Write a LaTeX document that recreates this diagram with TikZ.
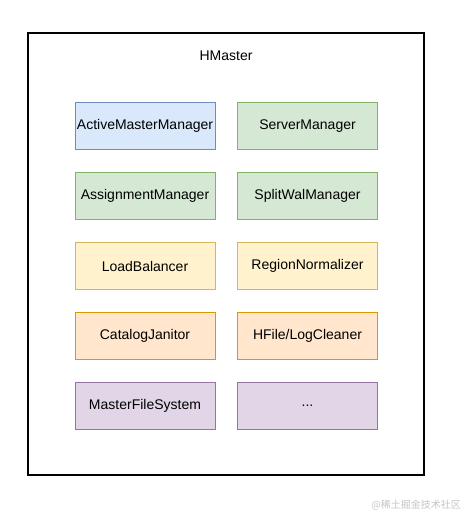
\documentclass[tikz,border=0pt]{standalone}
\usepackage{fontspec}
\setmainfont{Liberation Sans}
\newfontfamily\cjk{Noto Sans CJK SC}
\definecolor{bluefill}{HTML}{DAE8FC}\definecolor{bluedraw}{HTML}{6C8EBF}
\definecolor{greenfill}{HTML}{D5E8D4}\definecolor{greendraw}{HTML}{82B366}
\definecolor{yellowfill}{HTML}{FFF2CC}\definecolor{yellowdraw}{HTML}{D6B656}
\definecolor{orangefill}{HTML}{FFE6CC}\definecolor{orangedraw}{HTML}{D79B00}
\definecolor{purplefill}{HTML}{E1D5E7}\definecolor{purpledraw}{HTML}{9673A6}
\definecolor{wmgray}{HTML}{C4C4C4}
\begin{document}
\begin{tikzpicture}[x=1pt,y=-1pt,
  comp/.style={draw, line width=0.9pt, minimum width=140pt, minimum height=46.5pt, inner sep=0pt, font=\fontsize{14}{16}\selectfont, anchor=center},
  bluebox/.style={comp, fill=bluefill, draw=bluedraw},
  greenbox/.style={comp, fill=greenfill, draw=greendraw},
  yellowbox/.style={comp, fill=yellowfill, draw=yellowdraw},
  orangebox/.style={comp, fill=orangefill, draw=orangedraw},
  purplebox/.style={comp, fill=purplefill, draw=purpledraw}]
\useasboundingbox (0,0) rectangle (465,514);
\node[draw, line width=1.2pt, minimum width=396pt, minimum height=442pt, inner sep=0pt] (outer) at (226,254) {};
\node[font=\fontsize{14}{16}\selectfont] (title) at (226,56) {HMaster};
\node[bluebox] (amm) at (145,126) {ActiveMasterManager};
\node[greenbox] (sm) at (307.5,126) {ServerManager};
\node[greenbox] (asm) at (145,196) {AssignmentManager};
\node[greenbox] (swm) at (307.5,196) {SplitWalManager};
\node[yellowbox] (lb) at (145,266) {LoadBalancer};
\node[yellowbox] (rn) at (307.5,266) {RegionNormalizer};
\node[orangebox] (cj) at (145,336) {CatalogJanitor};
\node[orangebox] (hl) at (307.5,336) {HFile/LogCleaner};
\node[purplebox] (mfs) at (145,406) {MasterFileSystem};
\node[purplebox] (etc) at (307.5,406) {...};
\node[text=wmgray, font=\cjk\fontsize{10}{12}\selectfont, anchor=east, inner sep=0pt] (wm) at (461,505) {@稀土掘金技术社区};
\end{tikzpicture}
\end{document}
